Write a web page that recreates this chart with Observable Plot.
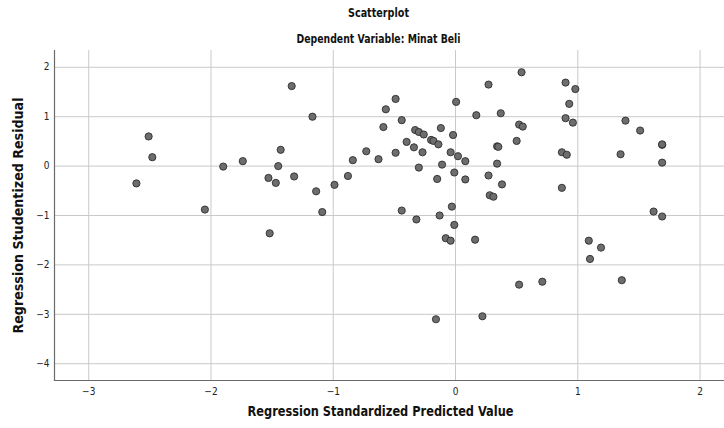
<!DOCTYPE html>
<html>
<head>
<meta charset="utf-8">
<script src="https://cdn.jsdelivr.net/npm/d3@7"></script>
<script src="https://cdn.jsdelivr.net/npm/@observablehq/plot@0.6"></script>
<style>
  html, body { margin: 0; padding: 0; background: #fff; }
  #chart svg { display: block; }
</style>
</head>
<body>
<div id="chart"></div>
<script>
const title = "Scatterplot";
const subtitle = "Dependent Variable: Minat Beli";
const xLabel = "Regression Standardized Predicted Value";
const yLabel = "Regression Studentized Residual";

const xTicks = [-3, -2, -1, 0, 1, 2];
const yTicks = [2, 1, 0, -1, -2, -3, -4];

const predicted = [
  -2.51, -2.48, -2.61, -2.05, -1.90, -1.74, -1.53, -1.52, -1.34, -1.17,
  -1.43, -1.45, -1.47, -1.32, -1.14, -1.09, -0.99, -0.88, -0.84, -0.73,
  -0.63, -0.59, -0.57, -0.49, -0.44, -0.49, -0.40, -0.33, -0.30, -0.26,
  -0.34, -0.27, -0.30, -0.20, -0.18, -0.14, -0.12, -0.02, 0.005, -0.04,
  0.02, -0.11, 0.08, -0.01, -0.15, 0.08, -0.44, -0.32, -0.13, -0.03,
  -0.01, -0.08, -0.04, 0.16, 0.17, 0.27, 0.37, 0.34, 0.35, 0.34,
  0.27, 0.38, 0.28, 0.31, 0.54, 0.90, 0.98, 0.93, 0.90, 0.96,
  0.52, 0.55, 0.50, 0.87, 0.91, 0.87, 1.39, 1.51, 1.69, 1.69,
  1.35, 1.69, 1.62, 1.69, 1.09, 1.19, 1.10, 1.36, 0.52, 0.71,
  0.22, -0.16
];
const residual = [
  0.60, 0.18, -0.35, -0.88, -0.01, 0.10, -0.24, -1.36, 1.62, 1.00,
  0.33, 0.00, -0.34, -0.21, -0.51, -0.93, -0.38, -0.20, 0.12, 0.30,
  0.14, 0.79, 1.15, 1.36, 0.93, 0.27, 0.49, 0.73, 0.69, 0.64,
  0.38, 0.28, -0.03, 0.53, 0.51, 0.44, 0.77, 0.63, 1.30, 0.28,
  0.20, 0.03, 0.10, -0.13, -0.26, -0.27, -0.90, -1.08, -1.00, -0.82,
  -1.19, -1.46, -1.51, -1.49, 1.03, 1.65, 1.07, 0.40, 0.39, 0.05,
  -0.19, -0.37, -0.59, -0.62, 1.90, 1.69, 1.56, 1.26, 0.97, 0.88,
  0.84, 0.80, 0.51, 0.28, 0.23, -0.44, 0.92, 0.72, 0.43, 0.44,
  0.24, 0.07, -0.92, -1.02, -1.51, -1.65, -1.88, -2.31, -2.40, -2.34,
  -3.04, -3.10
];

const points = predicted.map((x, i) => ({x, y: residual[i]}));

const font = "'DejaVu Sans Condensed', 'DejaVu Sans', sans-serif";

const chart = Plot.plot({
  width: 724,
  height: 428,
  marginTop: 50,
  marginLeft: 54,
  marginRight: 0,
  marginBottom: 48,
  style: {fontFamily: font, background: "#fff", color: "#222"},
  x: {domain: [-3.28, 2.2], label: null},
  y: {domain: [-4.34, 2.34], label: null},
  marks: [
    Plot.gridX(xTicks, {stroke: "#c9c9c9", strokeOpacity: 1, strokeWidth: 1}),
    Plot.gridY(yTicks, {stroke: "#c9c9c9", strokeOpacity: 1, strokeWidth: 1}),
    Plot.axisX(xTicks, {tickSize: 0, tickPadding: 7, fontSize: 10, tickFormat: d => d3.format("")(d), fill: "#222"}),
    Plot.axisY(yTicks, {tickSize: 0, tickPadding: 5, fontSize: 10, tickFormat: d => d3.format("")(d), fill: "#222"}),
    Plot.frame({anchor: "left", stroke: "#6a6a6a", strokeWidth: 1.2}),
    Plot.frame({anchor: "bottom", stroke: "#6a6a6a", strokeWidth: 1.2}),
    Plot.dot(points, {x: "x", y: "y", r: 3.6, fill: "#6d6d6d", stroke: "#2e2e2e", strokeWidth: 0.9}),
    Plot.text([title], {frameAnchor: "top", dx: -11, dy: -42, fontSize: 12.5, fontWeight: "bold", fill: "#111"}),
    Plot.text([subtitle], {frameAnchor: "top", dx: -11, dy: -16, fontSize: 12.5, fontWeight: "bold", fill: "#111"}),
    Plot.text([xLabel], {frameAnchor: "bottom", dx: -9, dy: 35, fontSize: 14, fontWeight: "bold", fill: "#111"}),
    Plot.text([yLabel], {frameAnchor: "left", textAnchor: "middle", dx: -36, dy: 0, rotate: -90, fontSize: 14, fontWeight: "bold", fill: "#111"})
  ]
});

// Narrow the label glyphs to the condensed face of the reference
const widths = new Map([[title, 61], [subtitle, 164], [xLabel, 266], [yLabel, 236]]);
d3.select(chart).selectAll("text").each(function() {
  const w = widths.get(this.textContent);
  if (w) {
    this.setAttribute("textLength", w);
    this.setAttribute("lengthAdjust", "spacingAndGlyphs");
  }
});

document.getElementById("chart").appendChild(chart);
</script>
</body>
</html>
